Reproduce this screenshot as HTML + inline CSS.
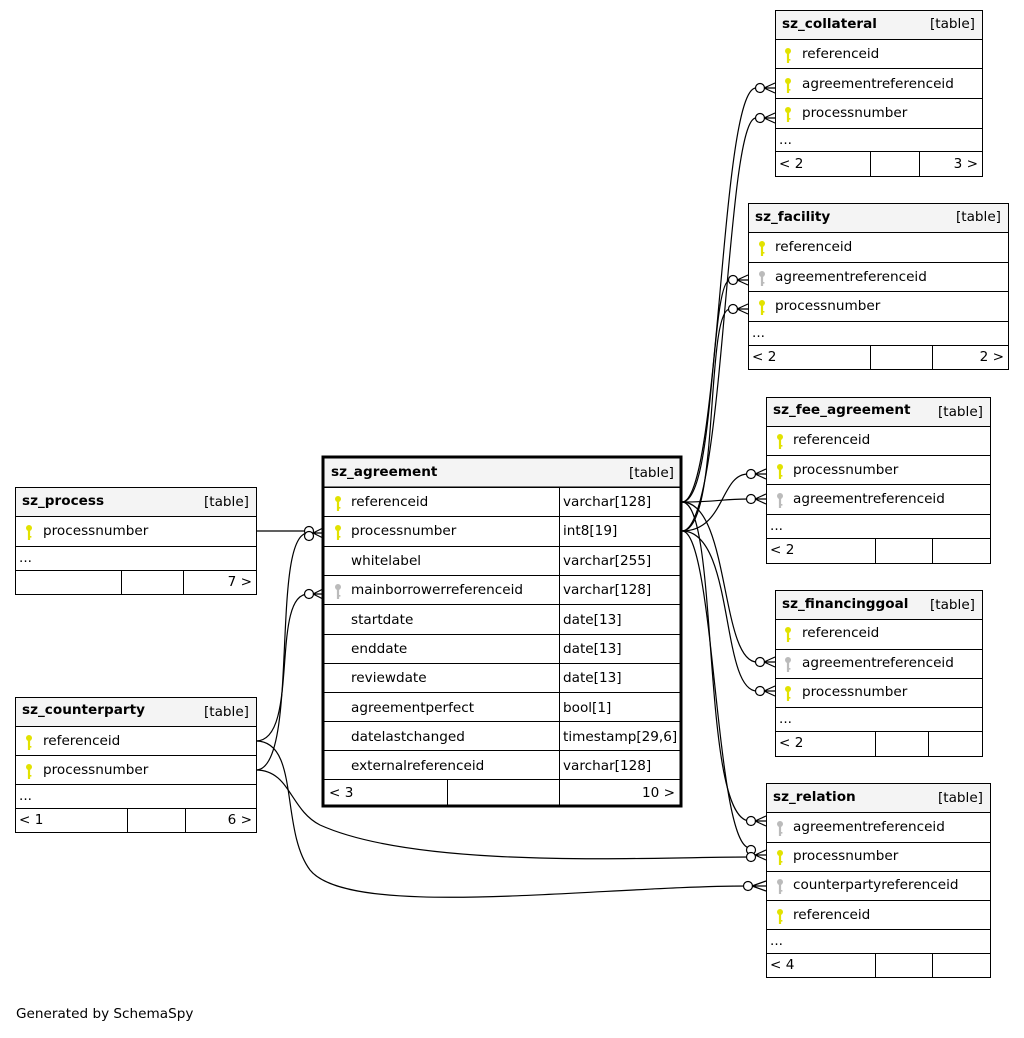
<!DOCTYPE html>
<html><head><meta charset="utf-8"><style>
body{margin:0;background:#fff;}
svg text{font-family:"DejaVu Sans","Liberation Sans",sans-serif;font-size:13.6px;fill:#000;}
.b{font-weight:bold;}
</style></head><body>
<svg width="1024" height="1033" viewBox="0 0 1024 1033" xmlns="http://www.w3.org/2000/svg">
<defs>
<g id="ky"><circle cx="0" cy="-3" r="3" fill="#e2e200"/><rect x="-1.1" y="-1" width="2.2" height="10" fill="#e2e200"/><rect x="0" y="5" width="2.4" height="1.6" fill="#e2e200"/></g>
<g id="kg"><circle cx="0" cy="-3" r="3" fill="#bbb"/><rect x="-1.1" y="-1" width="2.2" height="10" fill="#bbb"/><rect x="0" y="5" width="2.4" height="1.6" fill="#bbb"/></g>
</defs>
<g fill="none" stroke="#000" stroke-width="1.2">
<path d="M682,502 C720,502 720,88 756,88"/>
<path d="M682,531 C725,531 725,118 756,118"/>
<path d="M682,502 C715,502 710,280 730,280"/>
<path d="M682,531 C720,531 705,309 730,309"/>
<path d="M682,502 C720,502 720,499 748,499"/>
<path d="M682,531 C725,531 720,474 748,474"/>
<path d="M682,502 C730,502 720,662 757,662"/>
<path d="M682,531 C735,531 720,691 757,691"/>
<path d="M682,502 C720,502 700,821 750,821"/>
<path d="M682,531 C715,531 715,848 750,848"/>
<path d="M256,531 L308,531"/>
<path d="M256,741 C300,741 270,594 308,594"/>
<path d="M256,770 C300,770 270,533 308,533"/>
<path d="M256,770 C290,770 290,810 320,825 C420,870 650,857 750,857"/>
<path d="M256,741 C300,741 280,830 310,870 C350,920 600,886 748,886"/>
</g>
<g fill="#fff" stroke="#000" stroke-width="1.2">
<circle cx="760" cy="88" r="4.5"/><circle cx="760" cy="118" r="4.5"/>
<circle cx="733" cy="280" r="4.5"/><circle cx="733" cy="309" r="4.5"/>
<circle cx="751" cy="474" r="4.5"/><circle cx="751" cy="499" r="4.5"/>
<circle cx="760" cy="662" r="4.5"/><circle cx="760" cy="691" r="4.5"/>
<circle cx="751" cy="821" r="4.5"/><circle cx="751" cy="850" r="4.5"/><circle cx="751" cy="857" r="4.5"/><circle cx="748" cy="886" r="4.5"/>
<circle cx="309" cy="531" r="4.5"/><circle cx="309" cy="536" r="4.5"/><circle cx="309" cy="594" r="4.5"/>
</g>
<g stroke="#000" stroke-width="1.2" fill="none">
<path d="M764,88 L775,83 M764,88 L775,93 M764,88 L775,88"/>
<path d="M764,118 L775,113 M764,118 L775,123 M764,118 L775,118"/>
<path d="M737,280 L748,275 M737,280 L748,285 M737,280 L748,280"/>
<path d="M737,309 L748,304 M737,309 L748,314 M737,309 L748,309"/>
<path d="M755,474 L766,469 M755,474 L766,479 M755,474 L766,474"/>
<path d="M755,499 L766,494 M755,499 L766,504 M755,499 L766,499"/>
<path d="M764,662 L775,657 M764,662 L775,667 M764,662 L775,662"/>
<path d="M764,691 L775,686 M764,691 L775,696 M764,691 L775,691"/>
<path d="M755,821 L766,816 M755,821 L766,826 M755,821 L766,821"/>
<path d="M755,855 L766,850 M755,855 L766,860 M755,855 L766,855"/>
<path d="M752,886 L766,881 M752,886 L766,891 M752,886 L766,886"/>
<path d="M313,533 L323,528 M313,533 L323,538 M313,533 L323,533"/>
<path d="M313,594 L323,589 M313,594 L323,599 M313,594 L323,594"/>
</g>

<g stroke="#000" stroke-width="1" fill="none">
<rect x="775.5" y="10.5" width="207" height="166" fill="#fff"/>
<rect x="775.5" y="10.5" width="207" height="29" fill="#f4f4f4"/>
<path d="M775,68.5H982M775,98.5H982M775,128.5H982M775,151.5H982M870.5,151V176M919.5,151V176"/>
</g>
<text x="782" y="28" class="b">sz_collateral</text><text x="975" y="28" text-anchor="end">[table]</text>
<use href="#ky" x="788" y="54"/><text x="802" y="58">referenceid</text>
<use href="#ky" x="788" y="84"/><text x="802" y="88">agreementreferenceid</text>
<use href="#ky" x="788" y="113"/><text x="802" y="117">processnumber</text>
<text x="779" y="144">...</text><text x="779" y="168">&lt; 2</text><text x="978" y="168" text-anchor="end">3 &gt;</text>

<g stroke="#000" stroke-width="1" fill="none">
<rect x="748.5" y="203.5" width="260" height="166" fill="#fff"/>
<rect x="748.5" y="203.5" width="260" height="29" fill="#f4f4f4"/>
<path d="M748,262.5H1008M748,291.5H1008M748,321.5H1008M748,345.5H1008M870.5,345V370M932.5,345V370"/>
</g>
<text x="755" y="221" class="b">sz_facility</text><text x="1001" y="221" text-anchor="end">[table]</text>
<use href="#ky" x="762" y="247"/><text x="775" y="251">referenceid</text>
<use href="#kg" x="762" y="277"/><text x="775" y="281">agreementreferenceid</text>
<use href="#ky" x="762" y="306"/><text x="775" y="310">processnumber</text>
<text x="752" y="337">...</text><text x="752" y="361">&lt; 2</text><text x="1004" y="361" text-anchor="end">2 &gt;</text>

<g stroke="#000" stroke-width="1" fill="none">
<rect x="766.5" y="397.5" width="224" height="166" fill="#fff"/>
<rect x="766.5" y="397.5" width="224" height="29" fill="#f4f4f4"/>
<path d="M766,455.5H990M766,484.5H990M766,514.5H990M766,538.5H990M875.5,538V563M932.5,538V563"/>
</g>
<text x="773" y="414" class="b">sz_fee_agreement</text><text x="983" y="416" text-anchor="end">[table]</text>
<use href="#ky" x="780" y="440"/><text x="793" y="444">referenceid</text>
<use href="#ky" x="780" y="470"/><text x="793" y="474">processnumber</text>
<use href="#kg" x="780" y="499"/><text x="793" y="503">agreementreferenceid</text>
<text x="770" y="530">...</text><text x="770" y="554">&lt; 2</text>

<g stroke="#000" stroke-width="1" fill="none">
<rect x="775.5" y="590.5" width="207" height="166" fill="#fff"/>
<rect x="775.5" y="590.5" width="207" height="29" fill="#f4f4f4"/>
<path d="M775,649.5H982M775,678.5H982M775,707.5H982M775,731.5H982M875.5,731V756M928.5,731V756"/>
</g>
<text x="782" y="608" class="b">sz_financinggoal</text><text x="975" y="609" text-anchor="end">[table]</text>
<use href="#ky" x="788" y="633"/><text x="802" y="637">referenceid</text>
<use href="#kg" x="788" y="663"/><text x="802" y="667">agreementreferenceid</text>
<use href="#ky" x="788" y="692"/><text x="802" y="696">processnumber</text>
<text x="779" y="723">...</text><text x="779" y="747">&lt; 2</text>

<g stroke="#000" stroke-width="1" fill="none">
<rect x="766.5" y="783.5" width="224" height="194" fill="#fff"/>
<rect x="766.5" y="783.5" width="224" height="29" fill="#f4f4f4"/>
<path d="M766,842.5H990M766,871.5H990M766,900.5H990M766,929.5H990M766,953.5H990M875.5,953V978M932.5,953V978"/>
</g>
<text x="773" y="801" class="b">sz_relation</text><text x="983" y="802" text-anchor="end">[table]</text>
<use href="#kg" x="780" y="827"/><text x="793" y="831">agreementreferenceid</text>
<use href="#ky" x="780" y="856"/><text x="793" y="860">processnumber</text>
<use href="#kg" x="780" y="885"/><text x="793" y="889">counterpartyreferenceid</text>
<use href="#ky" x="780" y="915"/><text x="793" y="919">referenceid</text>
<text x="770" y="945">...</text><text x="770" y="969">&lt; 4</text>

<g stroke="#000" stroke-width="1" fill="none">
<rect x="15.5" y="487.5" width="241" height="107" fill="#fff"/>
<rect x="15.5" y="487.5" width="241" height="29" fill="#f4f4f4"/>
<path d="M15,546.5H256M15,570.5H256M121.5,570V595M183.5,570V595"/>
</g>
<text x="22" y="505" class="b">sz_process</text><text x="249" y="506" text-anchor="end">[table]</text>
<use href="#ky" x="29" y="531"/><text x="43" y="535">processnumber</text>
<text x="19" y="562">...</text><text x="252" y="586" text-anchor="end">7 &gt;</text>

<g stroke="#000" stroke-width="1" fill="none">
<rect x="15.5" y="697.5" width="241" height="135" fill="#fff"/>
<rect x="15.5" y="697.5" width="241" height="29" fill="#f4f4f4"/>
<path d="M15,755.5H256M15,784.5H256M15,808.5H256M127.5,808V833M185.5,808V833"/>
</g>
<text x="22" y="714" class="b">sz_counterparty</text><text x="249" y="716" text-anchor="end">[table]</text>
<use href="#ky" x="29" y="741"/><text x="43" y="745">referenceid</text>
<use href="#ky" x="29" y="770"/><text x="43" y="774">processnumber</text>
<text x="19" y="800">...</text><text x="19" y="824">&lt; 1</text><text x="252" y="824" text-anchor="end">6 &gt;</text>

<g stroke="#000" stroke-width="1" fill="none">
<rect x="323" y="457" width="358" height="349" fill="#fff"/>
<rect x="323" y="457" width="358" height="30" fill="#f4f4f4"/>
<path d="M323,487.5H681M323,516.5H681M323,546.5H681M323,575.5H681M323,604.5H681M323,634.5H681M323,663.5H681M323,692.5H681M323,721.5H681M323,750.5H681M323,779.5H681M559.5,487V806M447.5,779V806"/>
<rect x="323" y="457" width="358" height="349" stroke-width="3"/>
</g>
<text x="331" y="476" class="b">sz_agreement</text><text x="674" y="477" text-anchor="end">[table]</text>
<use href="#ky" x="338" y="502"/><text x="351" y="506">referenceid</text><text x="563" y="506">varchar[128]</text>
<use href="#ky" x="338" y="531"/><text x="351" y="535">processnumber</text><text x="563" y="535">int8[19]</text>
<text x="351" y="565">whitelabel</text><text x="563" y="565">varchar[255]</text>
<use href="#kg" x="338" y="590"/><text x="351" y="594">mainborrowerreferenceid</text><text x="563" y="594">varchar[128]</text>
<text x="351" y="624">startdate</text><text x="563" y="624">date[13]</text>
<text x="351" y="653">enddate</text><text x="563" y="653">date[13]</text>
<text x="351" y="682">reviewdate</text><text x="563" y="682">date[13]</text>
<text x="351" y="712">agreementperfect</text><text x="563" y="712">bool[1]</text>
<text x="351" y="741">datelastchanged</text><text x="563" y="741">timestamp[29,6]</text>
<text x="351" y="770">externalreferenceid</text><text x="563" y="770">varchar[128]</text>
<text x="329" y="797">&lt; 3</text><text x="675" y="797" text-anchor="end">10 &gt;</text>

<text x="16" y="1018">Generated by SchemaSpy</text>
</svg>
</body></html>
